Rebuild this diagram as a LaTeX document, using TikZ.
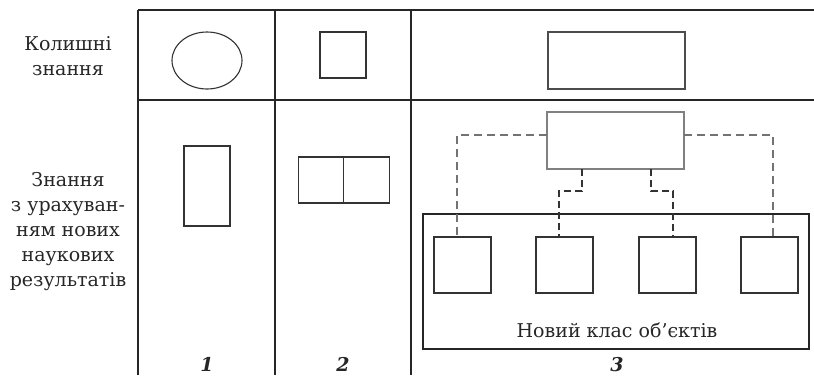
\documentclass[tikz,border=0pt]{standalone}
\usepackage{fontspec}
\setmainfont{DejaVu Serif}
\usetikzlibrary{calc,shapes.geometric}
\tikzset{
  grid/.style={line width=1.3pt, draw=black!85},
  shp/.style={draw=black!80, line width=1.1pt, inner sep=0pt, outer sep=0pt},
  gshp/.style={draw=black!50, line width=1.4pt, inner sep=0pt, outer sep=0pt},
  bigbox/.style={draw=black!85, line width=2.9pt, inner sep=0pt, outer sep=0pt},
  gdash/.style={draw=black!55, line width=1.4pt, dash pattern=on 8pt off 5pt},
  ddash/.style={draw=black!80, line width=1.3pt, dash pattern=on 7pt off 4pt},
  lbl/.style={font=\fontsize{19}{25}\selectfont, align=center, inner sep=0pt, text=black!85},
  num/.style={font=\fontsize{19}{22}\selectfont\bfseries\itshape, inner sep=0pt, text=black!85}
}
\begin{document}
\begin{tikzpicture}[x=1pt,y=-1pt]
\useasboundingbox (0,0) rectangle (814,375);
% grid
\coordinate (tl) at (138,10);
\coordinate (tr) at (814,10);
\coordinate (ml) at (138,100);
\coordinate (mr) at (814,100);
\coordinate (b0) at (138,375);
\coordinate (t1) at (275,10);
\coordinate (b1) at (275,375);
\coordinate (t2) at (411,10);
\coordinate (b2) at (411,375);
\draw[grid] (tl) -- (tr);
\draw[grid] (ml) -- (mr);
\draw[grid] (tl) -- (b0);
\draw[grid] (t1) -- (b1);
\draw[grid] (t2) -- (b2);
% row labels (base = last line's baseline)
\node[lbl, anchor=base] (r1) at (68,75) {Колишні\\знання};
\node[lbl, anchor=base] (r2) at (68,286) {Знання\\з урахуван-\\ням нових\\наукових\\результатів};
% row 1
\node[shp, ellipse, minimum width=70pt, minimum height=57pt] (e1) at (207,60.5) {};
\node[shp, minimum width=46pt, minimum height=46pt] (s1) at (343,55) {};
\node[shp, draw=black!70, minimum width=137pt, minimum height=57pt] (r3) at (616.5,60.5) {};
% row 2
\node[shp, minimum width=46pt, minimum height=80pt] (v1) at (207,186) {};
\node[shp, minimum width=45.5pt, minimum height=46pt] (d1) at (321,180) {};
\node[shp, minimum width=45.5pt, minimum height=46pt, anchor=west] (d2) at (d1.east) {};
% col 3
\node[bigbox, minimum width=386pt, minimum height=135pt] (cls) at (616,281.5) {};
\node[gshp, minimum width=137pt, minimum height=57pt] (sup) at (615.5,140.5) {};
\node[shp, minimum width=57pt, minimum height=56pt] (c1) at (462.5,265) {};
\node[shp, minimum width=57pt, minimum height=56pt] (c2) at (564.5,265) {};
\node[shp, minimum width=57pt, minimum height=56pt] (c3) at (667.5,265) {};
\node[shp, minimum width=57pt, minimum height=56pt] (c4) at (769.5,265) {};
\node[lbl, anchor=base] (clt) at (617,337) {Новий клас об’єктів};
% connectors
\coordinate (sl) at (547,135);
\coordinate (sr) at (684,135);
\coordinate (k1) at ($(c1.north)+(-5.5,0)$);
\coordinate (k4) at ($(c4.north)+(3.5,0)$);
\draw[gdash] (sl) -| (k1);
\draw[gdash] (sr) -| (k4);
\coordinate (sb2) at ($(sup.south)+(-33.5,0)$);
\coordinate (sb3) at ($(sup.south)+(35.5,0)$);
\coordinate (k2) at ($(c2.north)+(-5.5,0)$);
\coordinate (k3) at ($(c3.north)+(5.5,0)$);
\draw[ddash] (sb2) -- ++(0,22) -| (k2);
\draw[ddash] (sb3) -- ++(0,22) -| (k3);
% numbers
\node[num, anchor=base] (n1) at (207,371) {1};
\node[num, anchor=base] (n2) at (343,371) {2};
\node[num, anchor=base] (n3) at (617,371) {3};
\end{tikzpicture}
\end{document}
